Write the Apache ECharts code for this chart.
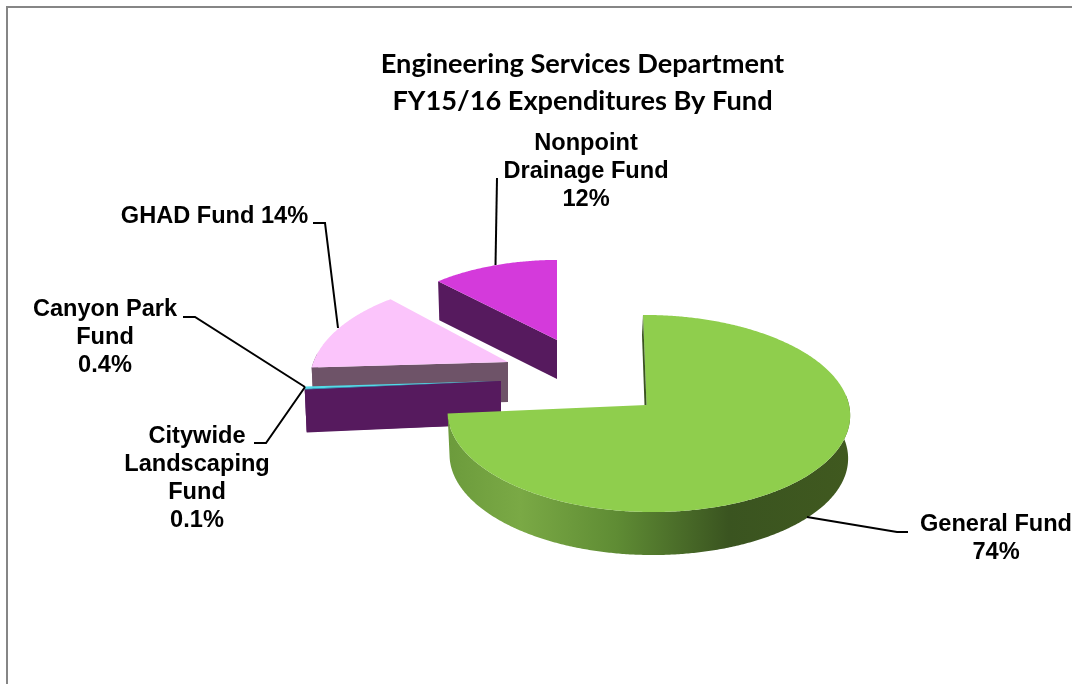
<!DOCTYPE html>
<html>
<head>
<meta charset="utf-8">
<title>Engineering Services Department</title>
<script src="https://cdn.jsdelivr.net/npm/echarts@6/dist/echarts.min.js"></script>
<style>
  html, body { margin: 0; padding: 0; background: #fff; }
  #chart { width: 1072px; height: 684px; }
</style>
</head>
<body>
<div id="chart"></div>
<script>
// values, clockwise from 12 o'clock
const funds = ["General Fund", "Citywide Landscaping Fund", "Canyon Park Fund", "GHAD Fund", "Nonpoint Drainage Fund"];
const percents = [73.6, 0.1, 0.4, 13.9, 12];

// how each label breaks, the percent line is added later
const labelLines = [["General Fund"], ["Citywide", "Landscaping", "Fund"], ["Canyon Park", "Fund"], ["GHAD Fund"], ["Nonpoint", "Drainage Fund"]];

// exploded position of every slice
const apexX = [646.5, 501, 501, 508, 557];
const apexY = [405, 381, 381, 362, 340];
const sliceScale = [1, 0.985, 0.985, 0.98, 0.9];
const sliceDepth = [43, 43, 43, 40, 39];
const drawOrder = [5, 4, 3, 2, 1];
const topColors = ["#8fce4d", "#2fb4d0", "#52dbe8", "#fbc4fb", "#d43adb"];
const wallColors = ["#3a5420", "#561a5e", "#561a5e", "#6e5368", "#561a5e"];

// tilted disc, a small perspective. The pieces pulled out sit at slightly different views
const R = 200.5, A = 97.8, M = -0.01;
const perspective = [0.0863, 0.0863, 0.0863, 0.19, 0.044];
const tilt = [1, 1, 1, 1.03, 0.95];
const shear = [-3.8, 0, 0, 0, 0];
const TAPER = 0.01;

function project(i, deg, down) {
  const t = deg * Math.PI / 180;
  const u = Math.sin(t), v = Math.cos(t);
  const d = 1 + perspective[i] * v + M * u;
  const s = sliceScale[i] * (down ? 1 - TAPER : 1);
  return [
    apexX[i] + s * (R * u + shear[i] * v) / d,
    apexY[i] - sliceScale[i] * tilt[i] * A * v / d + (down || 0)
  ];
}

const total = percents.reduce((a, b) => a + b, 0);
const startAngles = [];
percents.reduce((acc, p, i) => { startAngles[i] = acc; return acc + p / total * 360; }, 0);

const rimGradient = new echarts.graphic.LinearGradient(448, 0, 849, 0, [
  { offset: 0, color: "#6c9b3c" },
  { offset: 0.18, color: "#7aa945" },
  { offset: 0.42, color: "#5f8c34" },
  { offset: 0.7, color: "#3a5420" },
  { offset: 1, color: "#40591f" }
], true);

function renderSlice(params, api) {
  const i = params.dataIndex;
  const from = startAngles[i];
  const to = from + api.value(1) / total * 360;
  const z = drawOrder[i] * 10;
  const arc = [];
  for (let a = from; a < to; a += 0.5) arc.push(project(i, a));
  arc.push(project(i, to));
  const apex = [apexX[i], apexY[i]];
  const depth = sliceDepth[i];
  const children = [];

  // cut face at the start edge of exploded slices
  if (i > 0) {
    const p = arc[0];
    const q = project(i, from, depth);
    children.push({
      type: "polygon", z2: z,
      shape: { points: [apex, p, q, [apex[0], apex[1] + depth]] },
      style: { fill: wallColors[i] }
    });
  } else {
    // the sliver of inner wall beside the 12 o'clock edge
    children.push({
      type: "polygon", z2: z + 3,
      shape: { points: [arc[0], apex, [apex[0] - 2, apex[1]], [arc[0][0] - 1, arc[0][1] + 20]] },
      style: { fill: wallColors[0] }
    });
  }

  // outer rim, only the near part of the disc shows it
  const near = [];
  for (let a = from; a <= to; a += 0.5) {
    if (Math.cos(a * Math.PI / 180) < 0.1) near.push(a);
  }
  if (near.length > 1) {
    const upper = near.map(a => project(i, a));
    const lower = near.map(a => project(i, a, depth)).reverse();
    children.push({
      type: "polygon", z2: z + 1,
      shape: { points: upper.concat(lower) },
      style: { fill: i === 0 ? rimGradient : wallColors[i] }
    });
  }

  children.push({
    type: "polygon", z2: z + 2,
    shape: { points: [apex].concat(arc) },
    style: { fill: topColors[i] }
  });
  return { type: "group", children: children };
}

// label centre x, first line centre y, leader line
const labelX = [996, 197, 105, 214.5, 586];
const labelY = [524, 436, 309, 216, 143];
const leaders = [
  [[807, 517], [897, 532], [908, 532]],
  [[305, 387], [266, 443], [254, 443]],
  [[305, 387], [195, 317], [183, 317]],
  [[338, 328], [325, 223], [313, 223]],
  [[495.5, 265], [497, 178]]
];

function percentText(p) {
  return (p < 1 ? p.toFixed(1) : Math.round(p)) + "%";
}

const LINE = 28;
const labelFont = 'bold 23.6px "Liberation Sans", Arial, sans-serif';
const graphics = [{
  type: "rect", z: 0,
  shape: { x: 7, y: 7, width: 1200, height: 800 },
  style: { fill: "none", stroke: "#868686", lineWidth: 2 }
}];
funds.forEach((name, i) => {
  const lines = labelLines[i].slice();
  if (i === 3) lines[0] += " " + percentText(percents[i]);
  else lines.push(percentText(percents[i]));
  graphics.push({
    type: "text", z: 20, x: labelX[i], y: labelY[i] - LINE / 2,
    style: { text: lines.join("\n"), font: labelFont, fill: "#000", align: "center", verticalAlign: "top", lineHeight: LINE }
  });
  graphics.push({
    type: "polyline", z: 20,
    shape: { points: leaders[i] },
    style: { stroke: "#000", lineWidth: 2, fill: "none" }
  });
});

const chart = echarts.init(document.getElementById("chart"));
chart.setOption({
  animation: false,
  backgroundColor: "#fff",
  title: {
    text: "Engineering Services Department\nFY15/16 Expenditures By Fund",
    left: 577.5, top: 41, textAlign: "center",
    textStyle: { fontFamily: "Lato", fontWeight: "bold", fontSize: 27.2, lineHeight: 37, color: "#000" }
  },
  series: [{
    type: "custom",
    coordinateSystem: "none",
    silent: true,
    renderItem: renderSlice,
    data: percents.map((p, i) => [i, p])
  }],
  graphic: graphics
});
</script>
</body>
</html>
